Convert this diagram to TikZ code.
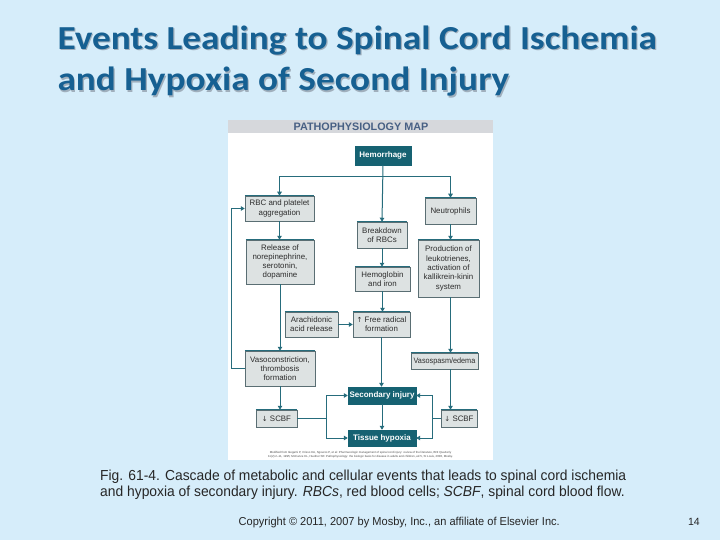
\documentclass[tikz,border=0pt]{standalone}
\usepackage{graphicx}
\usepackage{fontspec}
\setmainfont{Liberation Sans}
\newfontfamily\titlefont{Carlito}
\newfontfamily\arrowfont{DejaVu Sans}
\usetikzlibrary{arrows.meta}
\definecolor{slidebg}{RGB}{214,237,250}
\definecolor{titleblue}{RGB}{22,96,146}
\definecolor{titleshadow}{RGB}{160,175,188}
\definecolor{tealdark}{RGB}{22,98,114}
\definecolor{tealline}{RGB}{38,108,124}
\definecolor{boxgray}{RGB}{221,226,226}
\definecolor{boxedge}{RGB}{90,110,115}
\definecolor{hdrgray}{RGB}{214,216,220}
\definecolor{hdrtext}{RGB}{72,96,132}
\definecolor{boxtext}{RGB}{45,45,45}
\begin{document}
\begin{tikzpicture}[x=1pt,y=-1pt,
  lbox/.style={draw=boxedge, line width=0.5pt, fill=boxgray, align=center, inner sep=1pt,
    font=\fontsize{7.9}{9.3}\selectfont, text=boxtext},
  dbox/.style={draw=tealdark, fill=tealdark, align=center, inner sep=1pt,
    font=\bfseries\fontsize{8}{9.5}\selectfont, text=white},
  topedge/.style={draw=tealline, line width=1.2pt},
  link/.style={draw=tealline, line width=1pt},
  arr/.style={link, -{Triangle[length=4pt,width=4.5pt]}},
  titletext/.style={anchor=base west, inner sep=0pt, font=\titlefont\bfseries\fontsize{33.6}{38}\selectfont},
  captext/.style={anchor=base west, inner sep=0pt, font=\fontsize{14.5}{16}\selectfont, text=black!85}
]
\useasboundingbox (0,0) rectangle (720,540);
\fill[slidebg] (0,0) rectangle (720,540);
% title
\node[titletext, text=titleshadow] at (58.5,50.5) {\scalebox{1.11}[1]{Events Leading to Spinal Cord Ischemia}};
\node[titletext, text=titleblue] (t1) at (57.3,49.3) {\scalebox{1.11}[1]{Events Leading to Spinal Cord Ischemia}};
\node[titletext, text=titleshadow] at (58.5,92.2) {\scalebox{1.11}[1]{and Hypoxia of Second Injury}};
\node[titletext, text=titleblue] (t2) at (57.3,91) {\scalebox{1.11}[1]{and Hypoxia of Second Injury}};
% panel
\fill[white] (228,120) rectangle (493,460);
\fill[hdrgray] (228,120) rectangle (493,133);
\node[font=\bfseries\fontsize{10.8}{11}\selectfont, text=hdrtext] (hdr) at (361,127) {PATHOPHYSIOLOGY MAP};
% boxes
\node[dbox, minimum width=56pt, minimum height=19pt] (hem) at (383,155.5) {Hemorrhage};
\node[lbox, minimum width=69pt, minimum height=25pt] (rbc) at (279.5,208.5) {RBC and platelet\\aggregation};
\node[lbox, minimum width=51pt, minimum height=26pt] (neu) at (450.5,211) {Neutrophils};
\node[lbox, minimum width=50pt, minimum height=26pt] (brk) at (382,235) {Breakdown\\of RBCs};
\node[lbox, minimum width=68pt, minimum height=44pt] (rel) at (280,262) {Release of\\norepinephrine,\\serotonin,\\dopamine};
\node[lbox, minimum width=55pt, minimum height=24pt] (hgb) at (382.5,279) {Hemoglobin\\and iron};
\node[lbox, minimum width=61pt, minimum height=57pt] (prod) at (448.5,268.5) {Production of\\leukotrienes,\\activation of\\kallikrein-kinin\\system};
\node[lbox, minimum width=53pt, minimum height=25pt] (ara) at (311.5,324.5) {Arachidonic\\acid release};
\node[lbox, minimum width=57pt, minimum height=25pt] (frf) at (381.5,324.5) {{\arrowfont\fontsize{7}{9.3}\selectfont ↑} Free radical\\formation};
\node[lbox, minimum width=70pt, minimum height=35pt] (vaso) at (280,368.5) {Vasoconstriction,\\thrombosis\\formation};
\node[lbox, minimum width=67pt, minimum height=16pt] (vasp) at (444.5,361) {\scalebox{0.92}[1]{Vasospasm/edema}};
\node[dbox, minimum width=68pt, minimum height=17pt] (sec) at (382,395.5) {Secondary injury};
\node[lbox, minimum width=41pt, minimum height=17pt] (scl) at (276.5,418.5) {{\arrowfont\fontsize{7}{9.3}\selectfont ↓} SCBF};
\node[lbox, minimum width=36pt, minimum height=17pt] (scr) at (459,418.5) {{\arrowfont\fontsize{7}{9.3}\selectfont ↓} SCBF};
\node[dbox, minimum width=68pt, minimum height=16pt] (tis) at (382,438) {Tissue hypoxia};
\foreach \n in {rbc,neu,brk,rel,hgb,prod,ara,frf,vaso,vasp,scl,scr}
  \draw[topedge] (\n.north west) -- (\n.north east);
% connectors
\coordinate (split) at (hem.south |- 0,177);
\draw[arr] (hem.south) -- (brk.north);
\draw[arr] (split) -| (rbc.north);
\draw[arr] (split) -| (neu.north);
\draw[arr] (rbc.south) -- (rbc.south |- rel.north);
\draw[arr] (rel.south) -- (rel.south |- vaso.north);
\draw[arr] (vaso.south) -- (vaso.south |- scl.north);
\coordinate (fb) at (231,368.5);
\draw[arr] (vaso.west) -- (fb) |- (rbc.west);
\draw[arr] (brk.south) -- (brk.south |- hgb.north);
\draw[arr] (hgb.south) -- (hgb.south |- frf.north);
\draw[arr] (ara.east) -- (frf.west);
\draw[arr] (frf.south) -- (frf.south |- sec.north);
\draw[arr] (sec.south) -- (sec.south |- tis.north);
\draw[arr] (neu.south) -- (neu.south |- prod.north);
\draw[arr] (neu.south |- prod.south) -- (neu.south |- vasp.north);
\draw[arr] (neu.south |- vasp.south) -- (neu.south |- scr.north);
\coordinate (jl) at (326,418.5);
\coordinate (jr) at (432,418.5);
\draw[link] (scl.east) -- (jl);
\draw[arr] (jl) |- (sec.west);
\draw[arr] (jl) |- (tis.west);
\draw[link] (scr.west) -- (jr);
\draw[arr] (jr) |- (sec.east);
\draw[arr] (jr) |- (tis.east);
% citation
\node[font=\fontsize{2.9}{4.4}\selectfont, text=black!70, align=center] (cite) at (360.5,455) {Modified from Ikegami P, Crisso KA, Sgouros P, et al: Pharmacologic management of spinal cord injury: review of the literature, BNI Quarterly\\11(2):2--11, 1995; McCance KL, Huether SE: Pathophysiology: the biologic basis for disease in adults and children, ed 5, St Louis, 2006, Mosby.};
% caption
\node[captext] (cap1) at (100,480.3) {\scalebox{0.955}[1]{Fig. 61-4. Cascade of metabolic and cellular events that leads to spinal cord ischemia}};
\node[captext] (cap2) at (100,496.5) {\scalebox{0.955}[1]{and hypoxia of secondary injury. \textit{RBCs}, red blood cells; \textit{SCBF}, spinal cord blood flow.}};
\node[anchor=base west, inner sep=0pt, font=\fontsize{11.5}{13}\selectfont, text=black!85] (copy) at (238.5,525.3) {\scalebox{0.96}[1]{Copyright © 2011, 2007 by Mosby, Inc., an affiliate of Elsevier Inc.}};
\node[anchor=base east, inner sep=0pt, font=\fontsize{10.5}{12}\selectfont, text=black!85] (pg) at (700,525.3) {14};
\end{tikzpicture}
\end{document}
